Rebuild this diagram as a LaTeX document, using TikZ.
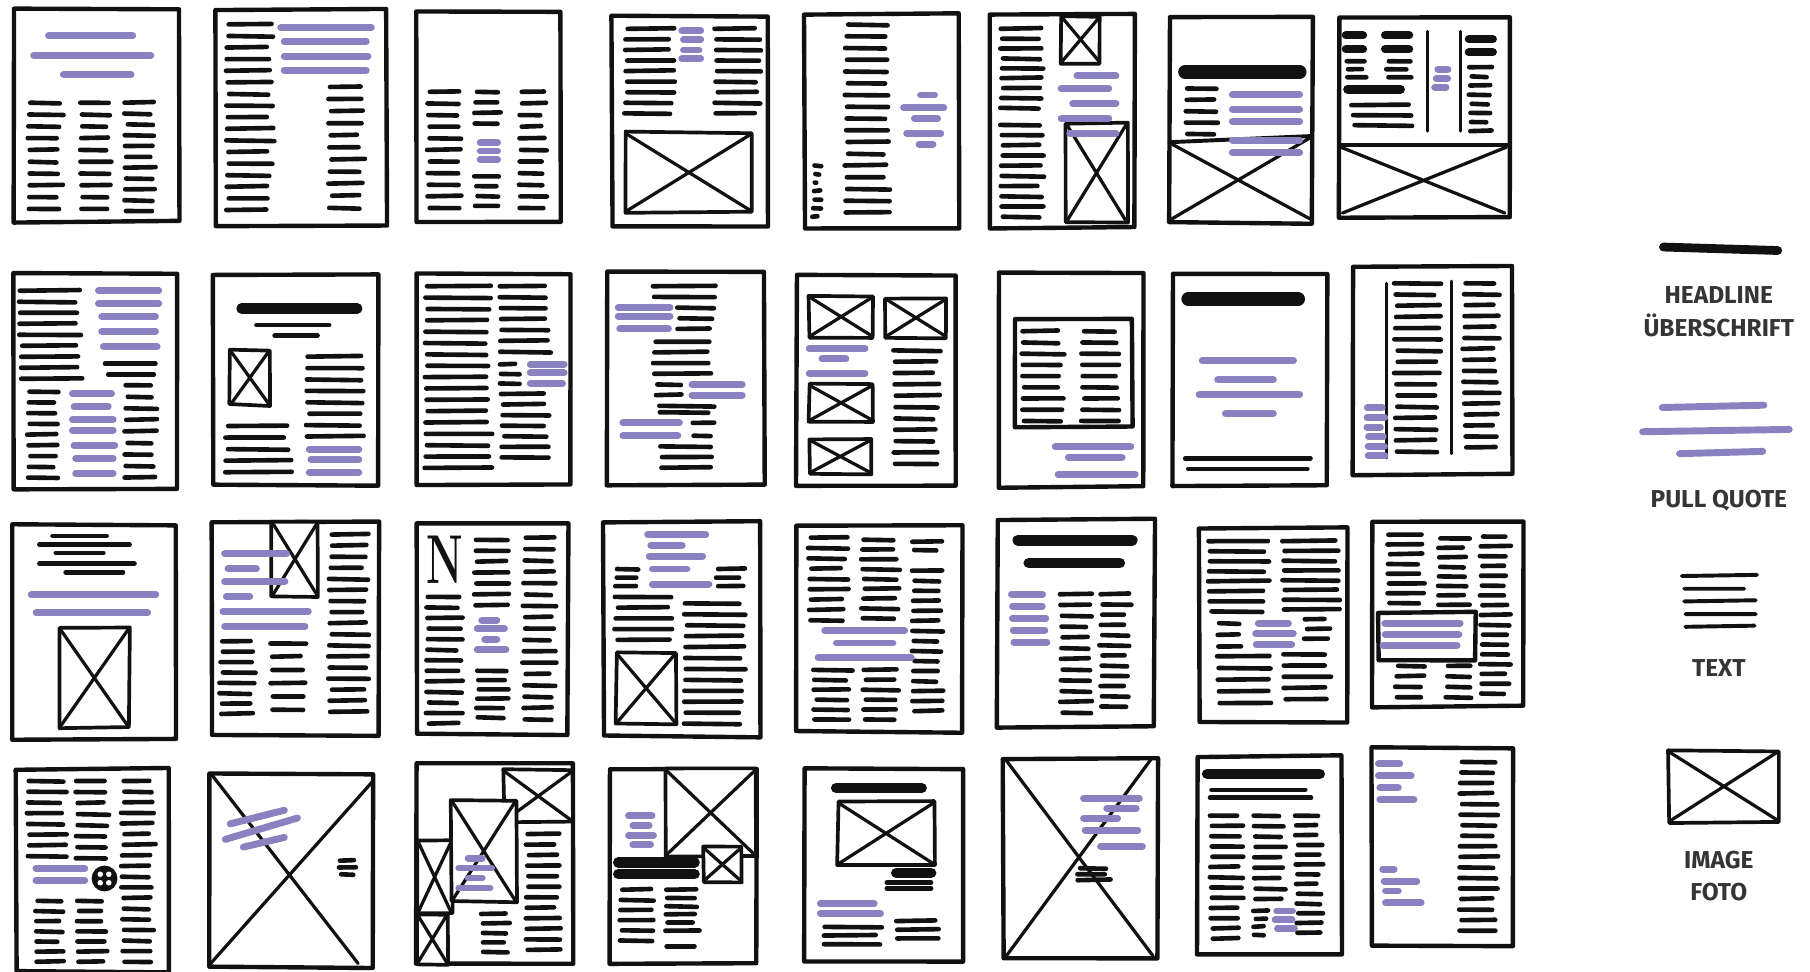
\documentclass[tikz,border=0pt]{standalone}
\usepackage{fontspec}
\usepackage{graphicx}
\newfontfamily\lgfont{Fira Sans}
\definecolor{pq}{HTML}{8A82C0}
\definecolor{ink}{HTML}{111111}
\tikzset{
 tx/.style={draw=ink, line width=2.0pt, line cap=round},
 pql/.style={draw=pq, line width=3.0pt, line cap=round},
 hdl/.style={draw=ink, line width=4.6pt, line cap=round},
 brd/.style={draw=ink, line width=1.9pt, line join=round, line cap=round, fill=white},
 imgb/.style={draw=ink, line width=1.6pt, line join=round, fill=white},
 imgl/.style={draw=ink, line width=1.4pt, line cap=round},
 vl/.style={draw=ink, line width=1.3pt, line cap=round},
 lg/.style={font=\lgfont\bfseries\fontsize{10.6}{14}\selectfont, text=ink!85, align=center, inner sep=0pt},
}
\newcommand\BoxJ[5]{%
 \pgfmathsetmacro\ja{rand*0.5}\pgfmathsetmacro\jb{rand*0.5}%
 \pgfmathsetmacro\jc{rand*0.5}\pgfmathsetmacro\jd{rand*0.5}%
 \pgfmathsetmacro\je{rand*0.5}\pgfmathsetmacro\jf{rand*0.5}%
 \pgfmathsetmacro\jg{rand*0.5}\pgfmathsetmacro\jh{rand*0.5}%
 \draw[#1] (#2+\ja,#3+\jb) -- (#4+\jc,#3+\jd) -- (#4+\je,#5+\jf) -- (#2+\jg,#5+\jh) -- cycle;}
\newcommand\TxL[3]{\draw[tx] (#1,#3) -- (#2,#3);}
\newcommand\PqL[3]{\draw[pql] (#1,#3) -- (#2,#3);}
\newcommand\HdL[3]{\draw[hdl] (#1,#3) -- (#2,#3);}
\newcommand\TxC[5]{\foreach \i in {1,...,#5}{%
 \pgfmathsetmacro\yy{#3+(#4-#3)*(\i-1)/max(#5-1,1)}%
 \pgfmathsetmacro\yb{\yy+rand*0.4}%
 \pgfmathsetmacro\xa{#1+rand*1.2}\pgfmathsetmacro\xb{#2+rand*2.5}%
 \draw[tx] (\xa,\yy) -- (\xb,\yb);}}
\newcommand\PqC[5]{\foreach \i in {1,...,#5}{%
 \pgfmathsetmacro\yy{#3+(#4-#3)*(\i-1)/max(#5-1,1)}%
 \pgfmathsetmacro\xa{#1+rand*1.2}\pgfmathsetmacro\xb{#2+rand*2.5}%
 \draw[pql] (\xa,\yy) -- (\xb,\yy);}}
\newcommand\ImgX[4]{\BoxJ{imgb}{#1}{#2}{#3}{#4}%
 \draw[imgl] (#1+1,#2+1) -- (#3-1,#4-1) (#3-1,#2+1) -- (#1+1,#4-1);}
\newcommand\PageS[5]{%
 \pgfmathsetmacro\pw{(#3-#1)/200}\pgfmathsetmacro\ph{(#4-#2)/200}%
 \begin{scope}[shift={(#1,#2)},x=\pw pt,y=-\ph pt]
 \BoxJ{brd}{0}{0}{100}{100}
 #5
 \end{scope}}
\begin{document}
\begin{tikzpicture}[x=0.5pt,y=-0.5pt]
\pgfmathsetseed{42}
\useasboundingbox (0,0) rectangle (1568,842);
% ---------------- Row 1
\PageS{12}{8}{155}{192}{%
 \PqL{21}{72}{12.5}\PqL{12}{83}{21.8}\PqL{30}{71}{30.6}
 \TxC{9}{28}{44}{94}{10}\TxC{41}{58}{44}{94}{10}\TxC{68}{85}{44}{95}{11}}
\PageS{187}{8}{335}{195}{%
 \TxC{7}{32}{7}{93}{17}
 \PqL{38}{91}{8.4}\PqL{40}{88}{14.8}\PqL{40}{89}{21.7}\PqL{40}{88}{28.2}
 \TxC{67}{85}{36}{92}{11}}
\PageS{361}{10}{486}{193}{%
 \TxC{8}{29}{38}{93}{11}
 \TxC{41}{57}{38}{53}{4}
 \PqL{44}{56}{62}\PqL{44}{56}{66}\PqL{44}{56}{70}
 \TxC{41}{57}{78}{92}{4}
 \TxC{72}{88}{38}{93}{11}}
\PageS{530}{14}{665}{197}{%
 \TxC{9}{38}{6}{46}{9}
 \PqL{45}{57}{7}\PqL{46}{57}{11}\PqL{46}{56}{16}\PqL{45}{57}{20}
 \TxC{67}{94}{6}{46}{9}
 \ImgX{9}{55}{90}{93}}
\PageS{697}{12}{831}{197}{%
 \TxC{27}{53}{5}{93}{17}
 \PqL{75}{84}{38}\PqL{64}{90}{44}\PqL{71}{86}{49}\PqL{66}{88}{56}\PqL{74}{83}{61}
 \TxC{6}{10}{71}{95}{7}}
\PageS{858}{12}{983}{197}{%
 \TxC{8}{35}{7}{44}{9}\TxC{8}{35}{52}{95}{10}
 \ImgX{49}{1}{76}{23}
 \ImgX{52}{51}{95}{98}
 \PqL{60}{87}{29}\PqL{49}{82}{35}\PqL{57}{87}{42}\PqL{49}{82}{49}\PqL{55}{87}{56}}
\PageS{1013}{14}{1137}{193}{%
 \draw[imgl, line width=1.7pt] (0,61) -- (100,58);
 \draw[imgl] (2,62) -- (98,98) (98,59) -- (2,98);
 \draw[hdl, line width=6pt] (11,27) -- (91,27);
 \TxC{12}{33}{35}{57}{5}
 \PqL{44}{91}{38}\PqL{44}{91}{45}\PqL{44}{91}{51}\PqL{44}{91}{60}\PqL{44}{91}{66}}
\PageS{1160}{15}{1308}{188}{%
 \draw[hdl, line width=3.6pt] (4,9) -- (14,9) (27,9) -- (41,9) (4,16) -- (14,16) (27,16) -- (41,16);
 \TxC{5}{15}{22}{30}{3}\TxC{28}{40}{22}{30}{3}
 \draw[hdl, line width=3.8pt] (5,36) -- (36,36);
 \TxC{8}{42}{44}{54}{3}
 \draw[vl] (52,7) -- (52,57) (71,7) -- (71,57);
 \PqC{57}{64}{26}{35}{3}
 \draw[hdl, line width=3.6pt] (76,11) -- (90,11) (76,17.5) -- (90,17.5);
 \TxC{77}{88}{25}{57}{8}
 \draw[imgl, line width=1.7pt] (0,64) -- (100,64);
 \draw[imgl] (1,65) -- (97,98) (98,65) -- (2,98);}
% ---------------- Row 2
\PageS{12}{237}{153}{423}{%
 \TxC{4}{40}{8}{49}{9}
 \PqL{52}{89}{8}\PqL{52}{89}{14}\PqL{54}{87}{20}\PqL{54}{87}{27}\PqL{55}{88}{34}
 \TxL{56}{87}{42}\TxL{58}{86}{47}
 \TxC{9}{25}{55}{95}{9}
 \PqL{36}{60}{56}\PqL{37}{58}{62}\PqL{36}{61}{68}\PqL{36}{61}{73}\PqL{37}{62}{80}\PqL{38}{61}{86}\PqL{38}{61}{93}
 \TxC{69}{86}{52}{95}{9}}
\PageS{185}{238}{328}{420}{%
 \HdL{17}{87}{16}
 \TxL{26}{70}{24}\TxL{37}{63}{29}
 \ImgX{10}{36}{34}{62}
 \TxC{57}{89}{39}{77}{8}
 \PqL{58}{88}{83}\PqL{59}{88}{88}\PqL{58}{88}{94}
 \TxC{8}{45}{72}{94}{5}}
\PageS{361}{237}{494}{420}{%
 \TxC{6}{47}{6}{92}{17}
 \TxC{55}{85}{6}{37}{7}
 \TxC{55}{66}{43}{52}{3}
 \PqL{74}{96}{43}\PqL{74}{96}{47}\PqL{74}{95}{52}
 \TxC{56}{85}{57}{87}{7}}
\PageS{526}{235}{662}{420}{%
 \TxC{29}{67}{7}{12}{2}
 \TxC{45}{66}{17}{27}{3}
 \PqL{7}{40}{17}\PqL{7}{40}{21}\PqL{8}{39}{27}
 \TxC{30}{66}{33}{48}{4}
 \TxC{32}{47}{53}{58}{2}
 \PqL{54}{86}{53}\PqL{54}{86}{58}
 \TxC{33}{66}{63}{66}{2}
 \TxC{54}{67}{71}{77}{2}
 \PqL{10}{46}{71}\PqL{10}{45}{77}
 \TxC{35}{66}{82}{92}{3}}
\PageS{690}{238}{828}{420}{%
 \ImgX{8}{10}{48}{30}\ImgX{56}{11}{94}{30}\ImgX{8}{52}{48}{70}\ImgX{8}{78}{47}{95}
 \PqL{8}{43}{35}\PqL{16}{31}{40}\PqL{8}{43}{47}
 \TxC{62}{88}{36}{90}{11}}
\PageS{865}{237}{991}{422}{%
 \BoxJ{brd}{11}{21}{92}{72}
 \TxC{17}{43}{27}{69}{9}\TxC{58}{81}{27}{69}{9}
 \PqL{39}{91}{81}\PqL{48}{85}{86}\PqL{41}{94}{94}}
\PageS{1016}{237}{1150}{421}{%
 \draw[hdl, line width=6pt] (10,12) -- (81,12);
 \PqL{19}{78}{41}\PqL{29}{65}{50}\PqL{17}{82}{57}\PqL{34}{65}{66}
 \TxL{8}{89}{87}\TxL{10}{87}{92}}
\PageS{1172}{231}{1310}{411}{%
 \draw[vl] (21,8) -- (21,92) (62,7) -- (62,90);
 \TxC{27}{53}{8}{89}{16}
 \TxC{70}{90}{8}{87}{16}
 \PqC{9}{18}{68}{91}{6}}
% ---------------- Row 3
\PageS{10}{455}{152}{640}{%
 \TxL{25}{58}{5}\TxL{17}{72}{9}\TxL{27}{56}{13}\TxL{17}{75}{18}\TxL{33}{68}{22}
 \PqL{12}{88}{32.6}\PqL{15}{83}{41}
 \ImgX{29}{48}{72}{95}}
\PageS{183}{452}{328}{637}{%
 \ImgX{36}{0}{64}{35}
 \PqL{8}{45}{15}\PqL{10}{27}{22}\PqL{8}{44}{28}\PqL{9}{23}{35}\PqL{7}{58}{42}\PqL{8}{56}{49}
 \TxC{71}{92}{6}{89}{17}
 \TxC{6}{24}{56}{90}{8}
 \TxC{36}{55}{57}{88}{6}}
\PageS{361}{453}{492}{636}{%
 \node[inner sep=0pt, font=\bfseries\fontsize{30}{30}\selectfont, text=ink] (dropN) at (18.5,17.5) {\scalebox{0.6}[1]{N}};
 \TxC{7}{28}{35}{95}{13}
 \TxC{39}{60}{8}{39}{7}
 \PqL{43}{53}{46}\PqL{40}{58}{50}\PqL{45}{53}{55}\PqL{40}{59}{60}
 \TxC{40}{59}{70}{92}{6}
 \TxC{71}{90}{7}{93}{17}}
\PageS{523}{452}{659}{638}{%
 \PqL{28}{65}{6}\PqL{30}{50}{11}\PqL{29}{63}{16}\PqL{31}{53}{22}\PqL{31}{67}{29}
 \TxC{8}{22}{22}{30}{3}\TxC{72}{88}{22}{30}{3}
 \TxC{8}{43}{35}{55}{5}
 \TxC{52}{88}{38}{94}{12}
 \ImgX{8}{61}{46}{94}}
\PageS{690}{455}{834}{634}{%
 \TxC{8}{29}{6}{46}{9}
 \TxC{40}{60}{7}{45}{9}
 \TxC{70}{86}{8}{12}{2}
 \TxC{70}{86}{22}{90}{15}
 \PqL{17}{65}{51}\PqL{24}{58}{57}\PqL{13}{69}{64}
 \TxC{11}{32}{70}{94}{6}\TxC{41}{59}{70}{94}{6}}
\PageS{864}{450}{1000}{630}{%
 \HdL{13}{86}{10}\HdL{20}{78}{21}
 \PqC{10}{31}{36}{59}{5}
 \TxC{41}{58}{36}{93}{12}
 \TxC{66}{83}{36}{90}{12}}
\PageS{1039}{457}{1167}{626}{%
 \TxC{7}{45}{7}{43}{8}
 \TxC{57}{93}{7}{42}{8}
 \TxC{13}{29}{49}{61}{3}
 \PqC{39}{62}{49}{60}{3}
 \TxC{72}{86}{47}{57}{3}
 \TxC{13}{49}{66}{90}{5}
 \TxC{58}{87}{65}{88}{5}}
\PageS{1189}{452}{1320}{612}{%
 \TxC{11}{32}{7}{44}{8}
 \TxC{44}{62}{9}{45}{8}
 \TxC{72}{89}{8}{93}{17}
 \BoxJ{brd}{4}{49}{68}{75}
 \PqC{8}{56}{55}{67}{3}
 \TxC{16}{33}{78}{95}{4}\TxC{49}{64}{78}{95}{4}}
% ---------------- Row 4
\PageS{14}{666}{146}{842}{%
 \TxC{8}{31}{6}{43}{8}\TxC{40}{59}{6}{44}{8}\TxC{70}{89}{6}{95}{18}
 \PqL{13}{45}{49}\PqL{13}{45}{55}
 \fill[ink] (58,54) circle[radius=5.6pt];
 \foreach \a in {45,135,225,315} \fill[white] (58,54) ++(\a:2.6pt) circle[radius=1.2pt];
 \TxC{13}{29}{65}{95}{7}\TxC{41}{58}{65}{95}{7}}
\PageS{181}{670}{323}{838}{%
 \draw[imgl] (2,1) -- (91,98) (100,4) -- (0,99);
 \draw[pql] (13,26) -- (46,19) (10,34) -- (54,23) (21,38) -- (46,33);
 \TxC{80}{90}{45}{52}{3}}
\PageS{361}{662}{496}{835}{%
 \ImgX{56}{3}{100}{29}
 \ImgX{0}{38}{23}{75}
 \ImgX{0}{75}{20}{100}
 \ImgX{22}{18}{64}{69}
 \TxC{71}{90}{35}{93}{12}
 \TxC{42}{58}{75}{94}{5}
 \PqL{33}{42}{47}\PqL{27}{48}{52}\PqL{33}{42}{57}\PqL{27}{47}{62}}
\PageS{528}{666}{655}{835}{%
 \ImgX{38}{0}{100}{45}
 \ImgX{64}{40}{90}{58}
 \HdL{6}{58}{48}\HdL{6}{58}{54}
 \PqL{13}{29}{24}\PqL{16}{27}{29}\PqL{13}{30}{34}\PqL{16}{28}{39}
 \TxC{8}{30}{62}{88}{6}\TxC{39}{59}{62}{83}{6}\TxL{39}{58}{91}}
\PageS{697}{666}{834}{833}{%
 \HdL{20}{74}{10}
 \ImgX{21}{17}{82}{50}
 \HdL{58}{80}{54}
 \TxL{52}{80}{59}\TxL{52}{80}{62}
 \PqL{10}{44}{70}\PqL{10}{48}{75}
 \TxC{13}{47}{82}{91}{3}\TxC{58}{84}{79}{88}{3}}
\PageS{869}{657}{1003}{830}{%
 \draw[imgl] (2,1) -- (97,99) (96,0) -- (2,99);
 \PqL{52}{88}{20}\PqL{67}{86}{25}\PqL{52}{74}{30}\PqL{53}{87}{36}\PqL{63}{90}{44}
 \TxC{49}{68}{55}{61}{3}}
\PageS{1037}{655}{1162}{827}{%
 \HdL{7}{85}{9}
 \TxL{10}{75}{17}\TxL{9}{79}{21}
 \TxC{10}{30}{30}{92}{13}
 \TxC{40}{59}{30}{72}{9}
 \TxC{40}{48}{78}{90}{4}
 \PqC{55}{68}{78}{87}{3}
 \TxC{69}{85}{30}{89}{13}}
\PageS{1188}{648}{1311}{820}{%
 \PqL{5}{20}{8}\PqL{5}{28}{14}\PqL{6}{19}{20}\PqL{6}{30}{26}
 \PqL{8}{16}{61}\PqL{9}{32}{67}\PqL{10}{19}{72}\PqL{10}{35}{78}
 \TxC{63}{87}{7}{92}{17}}
% ---------------- Legend
\draw[hdl, line width=3.8pt] (1441,214) -- (1540,217);
\node[lg] (lhead) at (1489,270) {HEADLINE\\ÜBERSCHRIFT};
\draw[pql] (1440,353) -- (1528,351) (1423,374) -- (1550,372) (1455,393) -- (1527,391);
\node[lg] (lpull) at (1489,434) {PULL QUOTE};
\draw[tx, line width=1.7pt] (1457,499) -- (1522,498) (1459,510) -- (1511,510) (1459,521) -- (1521,520) (1460,532) -- (1521,532) (1460,543) -- (1520,542);
\node[lg] (ltext) at (1489,579) {TEXT};
\draw[imgb, line width=1.6pt] (1445,650) -- (1541,651) -- (1541,712) -- (1446,713) -- cycle;
\draw[imgl] (1447,652) -- (1539,710) (1539,652) -- (1447,711);
\node[lg] (limg) at (1489,759) {IMAGE\\FOTO};
\end{tikzpicture}
\end{document}
